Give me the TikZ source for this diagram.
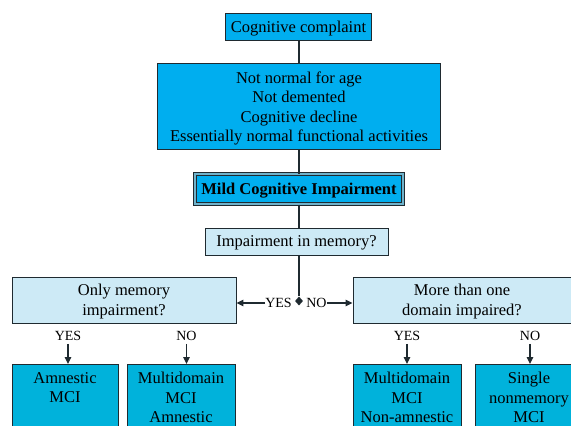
\documentclass[tikz,border=0pt]{standalone}
\usepackage{fontspec}
\setmainfont{Liberation Serif}
\usetikzlibrary{arrows.meta,shapes.geometric}
\definecolor{cyanmain}{HTML}{00AEEF}
\definecolor{cyanbot}{HTML}{00B2DB}
\definecolor{lightq}{HTML}{CDEAF6}
\definecolor{edgedark}{HTML}{1F2A30}
\definecolor{gapcol}{HTML}{6FB3CC}
\tikzset{
  x=1pt, y=-1pt,
  txt/.style={font=\fontsize{16.5}{19.5}\selectfont, align=center, inner sep=0pt, text depth=0pt},
  topbox/.style={txt, draw=edgedark, line width=1.6pt, fill=cyanmain},
  qbox/.style={txt, draw=edgedark, line width=0.9pt, fill=lightq},
  botbox/.style={txt, draw=edgedark, line width=0.9pt, fill=cyanbot, anchor=north},
  lbl/.style={font=\fontsize{14}{16}\selectfont, inner sep=0pt},
  conn/.style={draw=edgedark, line width=1.6pt},
  arr/.style={draw=edgedark, line width=1.2pt, -{Triangle[length=7pt,width=6.5pt]}},
}
\begin{document}
\begin{tikzpicture}
\useasboundingbox (0,0) rectangle (571,426);
\clip (0,0) rectangle (571,426);
\fill[white] (0,0) rectangle (571,426);

\node[topbox, minimum width=146pt, minimum height=27pt] (cc) at (298.5,27) {Cognitive complaint};
\node[topbox, minimum width=283pt, minimum height=86pt] (big) at (299,106.5)
  {Not normal for age\\Not demented\\Cognitive decline\\Essentially normal functional activities};
\node[txt, draw=edgedark, line width=1pt, double=gapcol, double distance=1.4pt, fill=cyanmain,
  minimum width=208pt, minimum height=30pt, font=\fontsize{16.5}{19.5}\selectfont\bfseries] (mci) at (299,189)
  {Mild Cognitive Impairment};
\node[qbox, minimum width=183pt, minimum height=27pt] (imp) at (296.5,241.5) {Impairment in memory?};
\node[diamond, fill=edgedark, inner sep=0pt, minimum width=8pt, minimum height=9pt] (dia) at (299,301) {};

\node[qbox, minimum width=224pt, minimum height=46pt] (lq) at (124,300) {Only memory\\impairment?};
\node[qbox, minimum width=218pt, minimum height=46pt] (rq) at (462,300) {More than one\\domain impaired?};

\node[lbl] (yesm) at (278.5,303) {YES};
\node[lbl] (nom) at (316.5,303) {NO};

\node[lbl] (ly) at (68,336) {YES};
\node[lbl] (ln) at (186.5,336) {NO};
\node[lbl] (ry) at (407,336) {YES};
\node[lbl] (rn) at (530,336) {NO};

\node[botbox, minimum width=106pt] (b1) at (65,364) {\parbox[b][90pt][t]{100pt}{\centering\vspace{8pt}Amnestic\\MCI}};
\node[botbox, minimum width=108pt] (b2) at (181,364) {\parbox[b][90pt][t]{104pt}{\centering\vspace{8pt}Multidomain\\MCI\\Amnestic}};
\node[botbox, minimum width=108pt] (b3) at (407,364) {\parbox[b][90pt][t]{104pt}{\centering\vspace{8pt}Multidomain\\MCI\\Non-amnestic}};
\node[botbox, minimum width=108pt] (b4) at (529,364) {\parbox[b][90pt][t]{104pt}{\centering\vspace{8pt}Single\\nonmemory\\MCI}};

\draw[conn] (cc.south -| dia) -- (big.north -| dia);
\draw[conn] (big.south -| dia) -- (mci.north -| dia);
\draw[conn] (mci.south -| dia) -- (imp.north -| dia);
\draw[conn] (imp.south -| dia) -- (dia);
\draw[arr] (yesm.west) -- (yesm.west -| lq.east);
\draw[arr] (nom.east) -- (nom.east -| rq.west);
\draw[arr] (ly.south) ++(0,3) -- (ly |- b1.north);
\draw[arr] (ln.south) ++(0,3) -- (ln |- b2.north);
\draw[arr] (ry.south) ++(0,3) -- (ry |- b3.north);
\draw[arr] (rn.south) ++(0,3) -- (rn |- b4.north);
\end{tikzpicture}
\end{document}
